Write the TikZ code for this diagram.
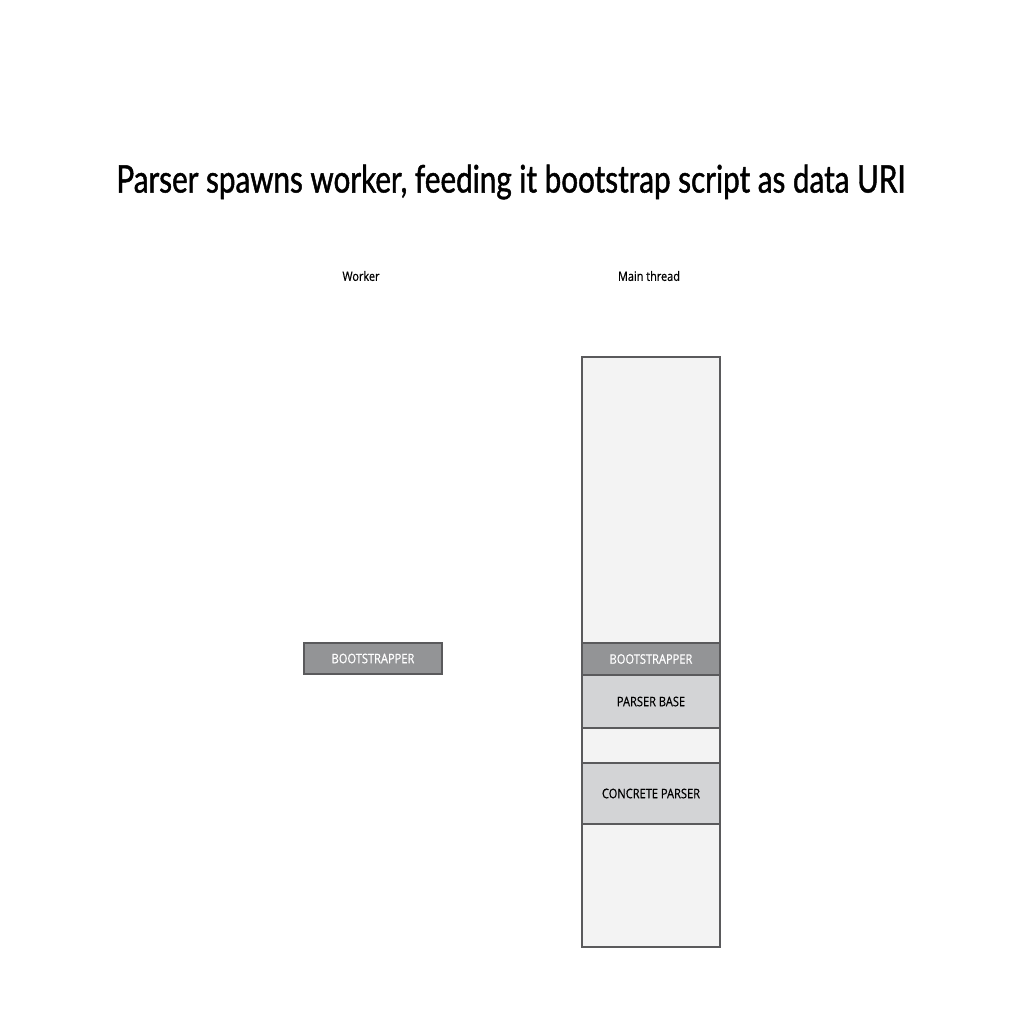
\documentclass[tikz,border=0pt]{standalone}
\usepackage{fontspec}
\setmainfont{Lato}
\newfontfamily\labfont[FakeStretch=0.84,FakeBold=0.6]{Open Sans}
\newfontfamily\titfont[FakeStretch=0.78,FakeBold=1.2]{Lato}
\definecolor{darkbox}{HTML}{939496}
\definecolor{lightbox}{HTML}{D3D4D6}
\definecolor{colbg}{HTML}{F3F3F3}
\definecolor{edge}{HTML}{5A5A5C}
\tikzset{
  blk/.style={draw=edge, line width=1.2pt, inner sep=0pt},
  darkblk/.style={blk, fill=darkbox, text=white, font=\labfont\fontsize{13.2}{15}\selectfont},
  lightblk/.style={blk, fill=lightbox, text=black, font=\labfont\fontsize{13.2}{15}\selectfont},
  collabel/.style={font=\labfont\fontsize{13}{15}\selectfont}
}
\begin{document}
\begin{tikzpicture}[x=1pt,y=-1pt]
\useasboundingbox (0,0) rectangle (1024,1024);
\fill[white] (0,0) rectangle (1024,1024);
\node[font=\titfont\fontsize{38}{42}\selectfont] (title) at (511,182) {Parser spawns worker, feeding it bootstrap script as data URI};
\node[collabel] (wlab) at (361,276) {Worker};
\node[collabel] (mlab) at (649,276) {Main thread};
% main column
\draw[draw=edge, line width=1.2pt, fill=colbg] (582,357) rectangle (720,947);
% worker bootstrapper
\draw[darkblk] (304,643) rectangle node (wboot) {BOOTSTRAPPER} (442,674);
% main blocks
\draw[darkblk] (582,643) rectangle node (mboot) {BOOTSTRAPPER} (720,675);
\draw[lightblk] (582,675) rectangle node (pbase) {PARSER BASE} (720,728);
\draw[lightblk] (582,763) rectangle node (cparser) {CONCRETE PARSER} (720,824);
\end{tikzpicture}
\end{document}
